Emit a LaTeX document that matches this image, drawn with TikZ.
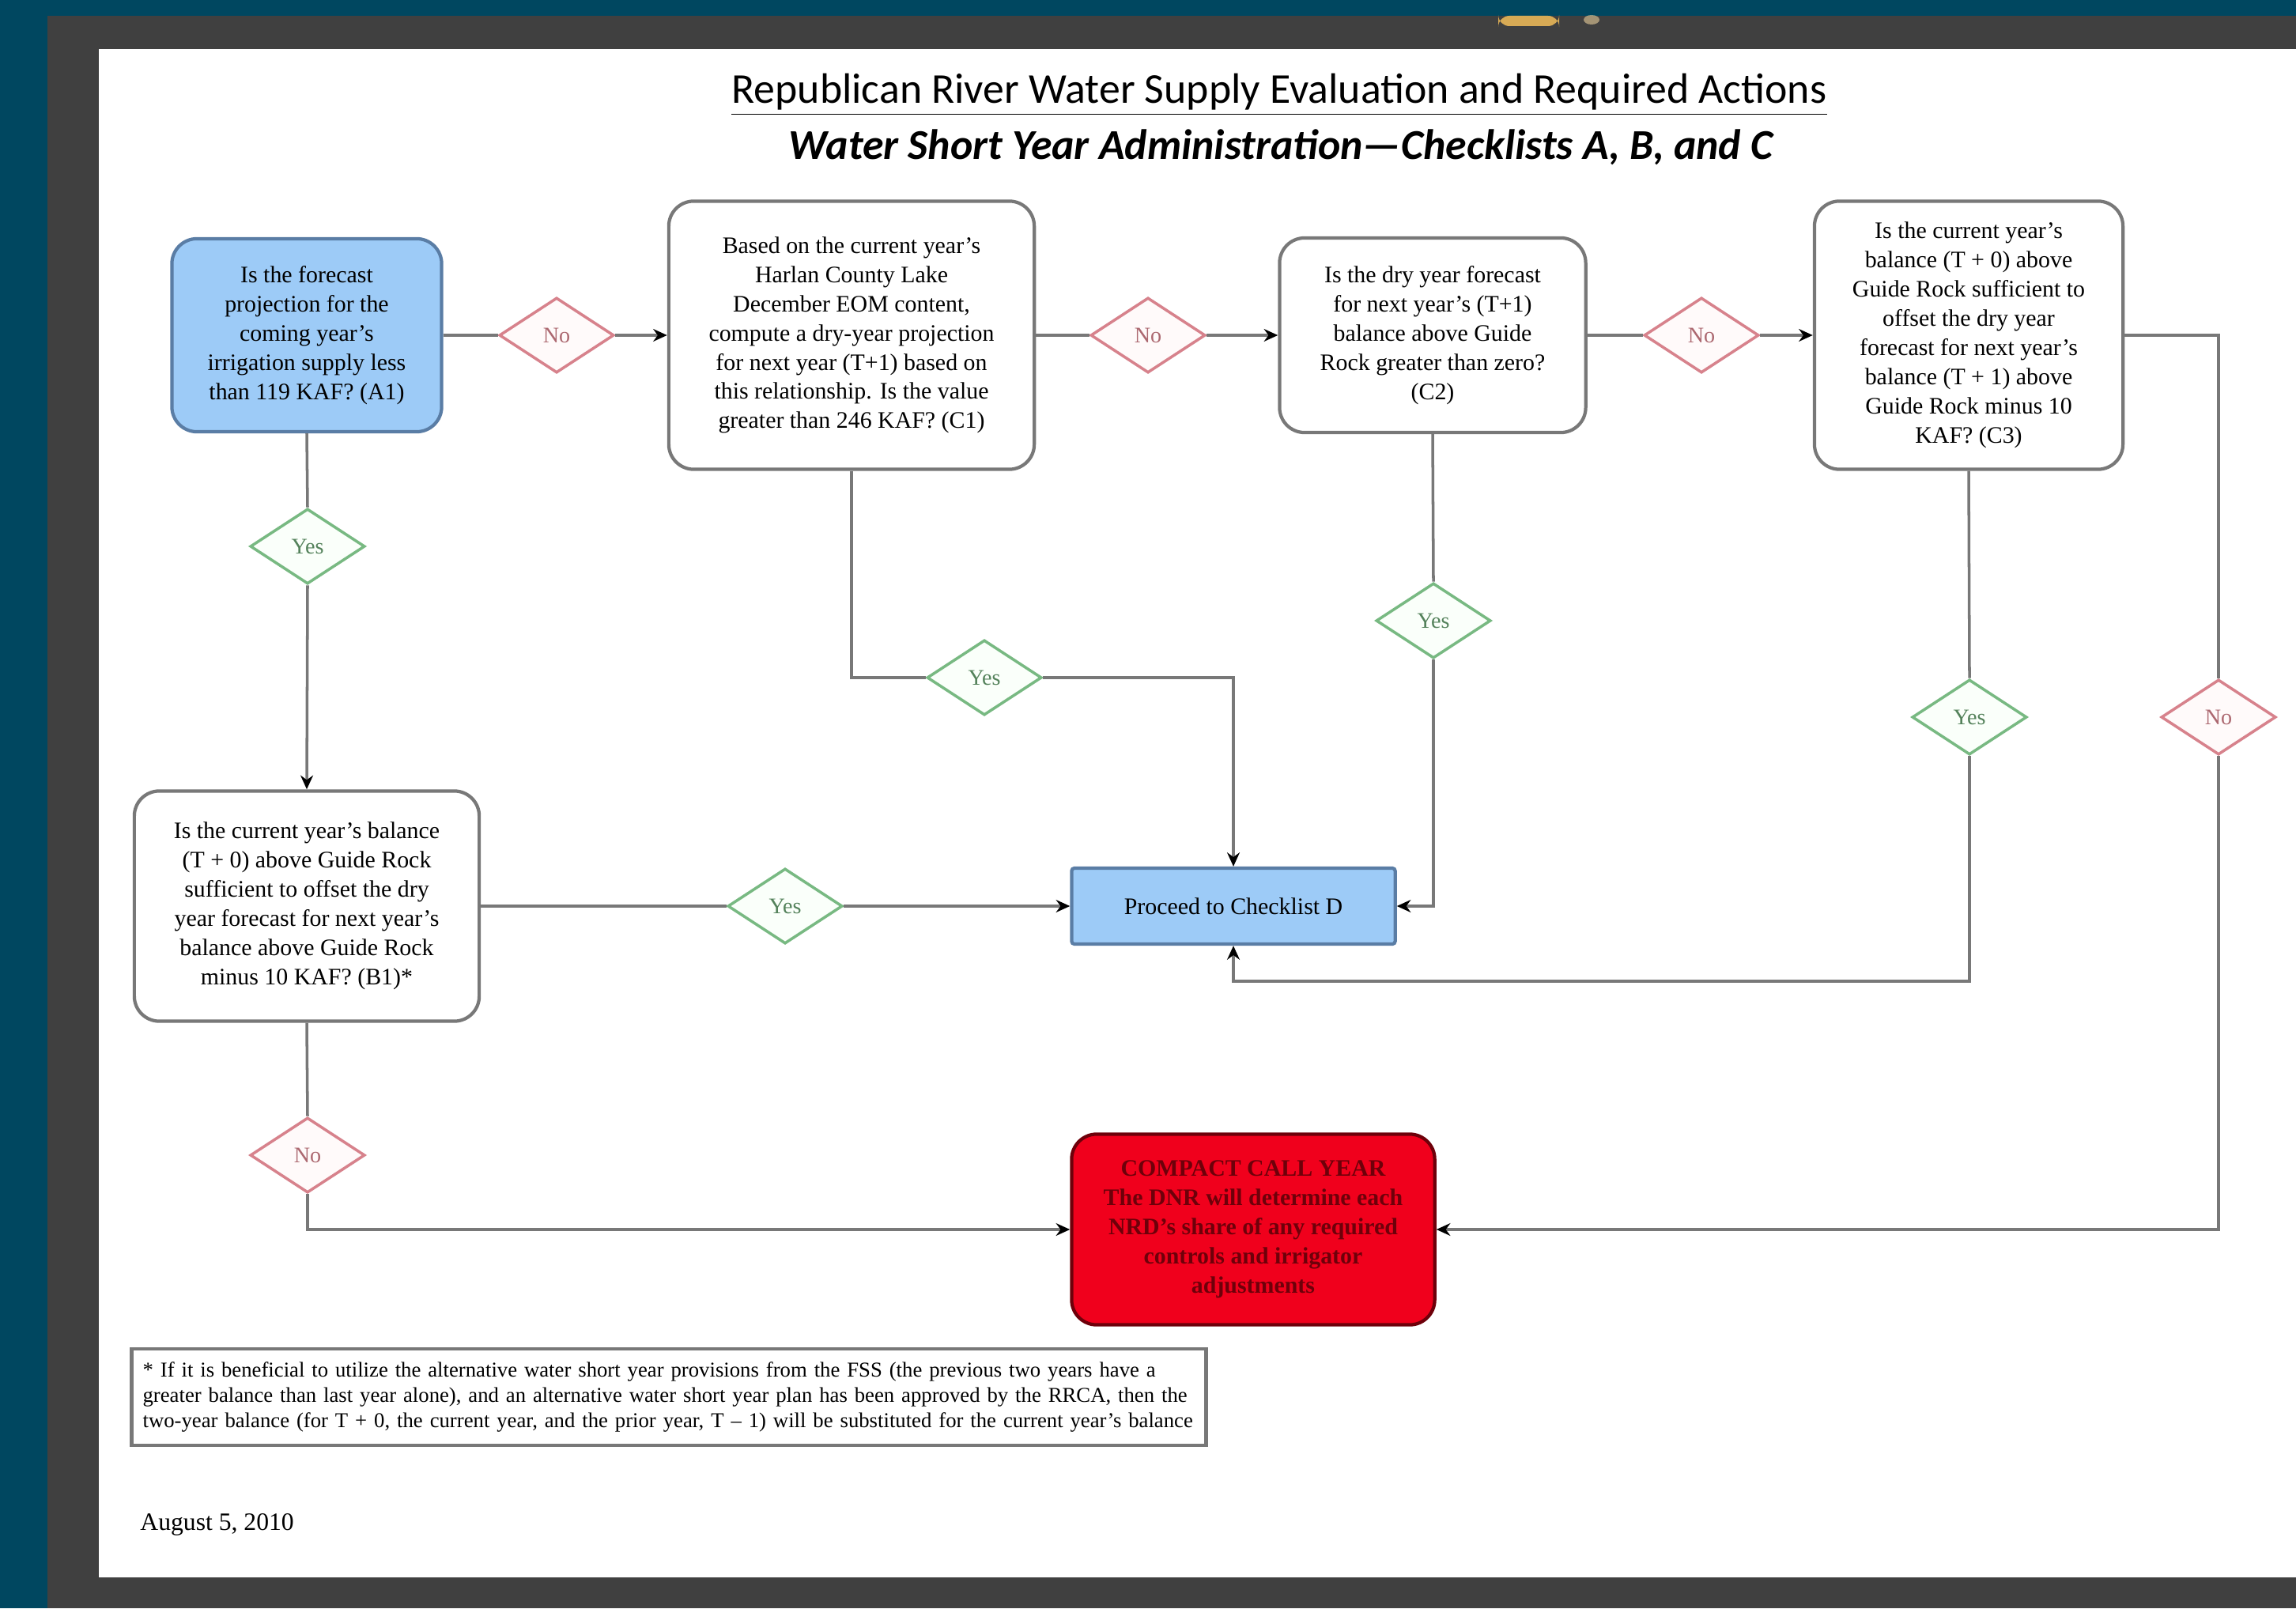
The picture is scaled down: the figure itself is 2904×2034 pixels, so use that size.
\documentclass[tikz,border=0pt]{standalone}
\usepackage{fontspec}
\setmainfont{Liberation Serif}
\newfontfamily\titlefont{Carlito}
\usepackage{tikz}
\usetikzlibrary{arrows.meta}
\usetikzlibrary{shapes.geometric}

\definecolor{slideteal}{RGB}{0,71,96}
\definecolor{framegray}{RGB}{64,64,64}
\definecolor{linegray}{RGB}{120,120,120}
\definecolor{boxblue}{RGB}{157,203,247}
\definecolor{boxblueline}{RGB}{90,125,165}
\definecolor{callred}{RGB}{240,0,28}
\definecolor{calltext}{RGB}{110,0,10}
\definecolor{nored}{RGB}{215,130,140}
\definecolor{yesgreen}{RGB}{120,185,130}
\definecolor{logoyellow}{RGB}{215,170,85}

\tikzstyle{flow} = [draw=linegray,line width=1pt]
\tikzstyle{arrow} = [flow,->,>={Stealth[length=5pt,width=4.5pt,black]}]
\tikzstyle{qbox} = [draw=linegray,line width=1.2pt,rounded corners=9pt,fill=white,align=center,font=\fontsize{8.5}{10.5}\selectfont,inner sep=2pt]
\tikzstyle{bluebox} = [qbox,draw=boxblueline,fill=boxblue]
\tikzstyle{redbox} = [qbox,draw=calltext,fill=callred,text=calltext,font=\fontsize{8.5}{10.5}\selectfont\bfseries]
\tikzstyle{diam} = [diamond,aspect=1.5,line width=1pt,minimum width=1.45cm,minimum height=0.95cm,inner sep=1pt,font=\fontsize{8}{9}\selectfont]
\tikzstyle{nodiam} = [diam,draw=nored,fill=red!2,text=nored!80!black]
\tikzstyle{yesdiam} = [diam,draw=yesgreen,fill=green!2,text=yesgreen!70!black]

\begin{document}
\begin{tikzpicture}[x=0.01cm,y=-0.01cm]
  % slide background and page
  \fill[slideteal] (0,0) rectangle (2904,2034);
  \fill[framegray] (60,20) rectangle (2904,2034);
  \fill[logoyellow,rounded corners=4pt] (1895,20) rectangle (1972,33);
  \fill[logoyellow!60!white,opacity=0.6] (2013,25) ellipse (10 and 6);
  \fill[white] (125,62) rectangle (2904,1995);
  \useasboundingbox (0,0) rectangle (2904,2034);

  % titles
  \node (title) at (1618,120) {\titlefont\fontsize{15.3}{18}\selectfont\underline{Republican River Water Supply Evaluation and Required Actions}};
  \node (subtitle) at (1620,186) {\titlefont\fontsize{15.3}{18}\selectfont\bfseries\itshape Water Short Year Administration—Checklists A, B, and C};

  % question boxes
  \node[bluebox,minimum width=3.41cm,minimum height=2.44cm] (a1) at (388,424)
    {Is the forecast\\ projection for the\\ coming year's\\ irrigation supply less\\ than 119 KAF? (A1)};
  \node[qbox,minimum width=4.62cm,minimum height=3.39cm] (c1) at (1077,424)
    {Based on the current year's\\ Harlan County Lake\\ December EOM content,\\ compute a dry-year projection\\ for next year (T+1) based on\\ this relationship. Is the value\\ greater than 246 KAF? (C1)};
  \node[qbox,minimum width=3.87cm,minimum height=2.46cm] (c2) at (1812,424)
    {Is the dry year forecast\\ for next year's (T+1)\\ balance above Guide\\ Rock greater than zero?\\ (C2)};
  \node[qbox,minimum width=3.90cm,minimum height=3.39cm] (c3) at (2490,424)
    {Is the current year's\\ balance (T + 0) above\\ Guide Rock sufficient to\\ offset the dry year\\ forecast for next year's\\ balance (T + 1) above\\ Guide Rock minus 10\\ KAF? (C3)};
  \node[qbox,minimum width=4.36cm,minimum height=2.91cm] (b1) at (388,1146)
    {Is the current year's balance\\ (T + 0) above Guide Rock\\ sufficient to offset the dry\\ year forecast for next year's\\ balance above Guide Rock\\ minus 10 KAF? (B1)*};

  % outcomes
  \node[bluebox,rounded corners=1pt,minimum width=4.09cm,minimum height=0.96cm] (proceed) at (1560,1146) {Proceed to Checklist D};
  \node[redbox,minimum width=4.59cm,minimum height=2.41cm] (call) at (1585,1555)
    {COMPACT CALL YEAR\\ The DNR will determine each\\ NRD's share of any required\\ controls and irrigator\\ adjustments};

  % yes / no diamonds
  \node[nodiam] (n1) at (704,424) {No};
  \node[nodiam] (n2) at (1452,424) {No};
  \node[nodiam] (n3) at (2152,424) {No};
  \node[nodiam] (n4) at (2806,907) {No};
  \node[nodiam] (n5) at (389,1461) {No};
  \node[yesdiam] (y1) at (389,691) {Yes};
  \node[yesdiam] (y2) at (1245,857) {Yes};
  \node[yesdiam] (y3) at (1813,785) {Yes};
  \node[yesdiam] (y4) at (2491,907) {Yes};
  \node[yesdiam] (y5) at (993,1146) {Yes};
  \coordinate (bend) at (2491,1241);

  % connectors
  \draw[flow] (a1.east) -- (n1.west);
  \draw[arrow] (n1.east) -- (c1.west);
  \draw[flow] (c1.east) -- (n2.west);
  \draw[arrow] (n2.east) -- (c2.west);
  \draw[flow] (c2.east) -- (n3.west);
  \draw[arrow] (n3.east) -- (c3.west);
  \draw[flow] (c3.east) -| (n4.north);
  \draw[arrow] (n4.south) |- (call.east);
  \draw[flow] (a1.south) -- (y1.north);
  \draw[arrow] (y1.south) -- (b1.north);
  \draw[flow] (b1.east) -- (y5.west);
  \draw[arrow] (y5.east) -- (proceed.west);
  \draw[flow] (b1.south) -- (n5.north);
  \draw[arrow] (n5.south) |- (call.west);
  \draw[flow] (c1.south) |- (y2.west);
  \draw[arrow] (y2.east) -| (proceed.north);
  \draw[flow] (c2.south) -- (y3.north);
  \draw[arrow] (y3.south) |- (proceed.east);
  \draw[flow] (c3.south) -- (y4.north);
  \draw[arrow] (y4.south) -- (bend) -| (proceed.south);

  % footnote and date
  \node[draw=linegray,line width=1.2pt,text width=13.3cm,minimum height=1.22cm,align=left,inner sep=4pt,font=\fontsize{7.6}{9.2}\selectfont] (note) at (846,1767)
    {* If it is beneficial to utilize the alternative water short year provisions from the FSS (the previous two years have a\\
     greater balance than last year alone), and an alternative water short year plan has been approved by the RRCA, then the\\
     two-year balance (for T + 0, the current year, and the prior year, T – 1) will be substituted for the current year's balance};
  \node[anchor=west,font=\fontsize{9}{11}\selectfont] (date) at (165,1928) {August 5, 2010};
\end{tikzpicture}
\end{document}
